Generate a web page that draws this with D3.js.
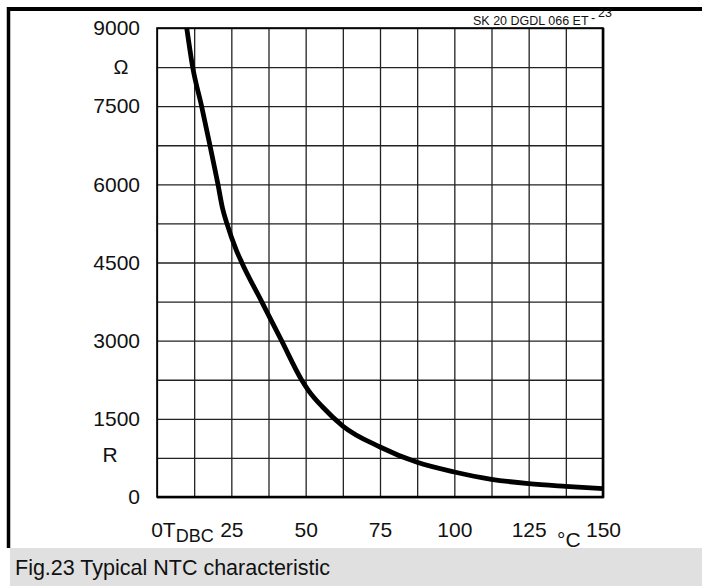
<!DOCTYPE html>
<html>
<head>
<meta charset="utf-8">
<script src="https://cdn.jsdelivr.net/npm/d3@7"></script>
<style>
    body { margin: 0; background: #fff; }
    svg { display: block; font-family: "Liberation Sans", Arial, sans-serif; }
    .grid line { stroke: #222; stroke-width: 1.3; }
    .grid path { display: none; }
    .tick text { font-size: 21px; fill: #111; }
    .axis path { display: none; }
</style>
</head>
<body>
<div id="chart"></div>
<script>
// temperature in degC, resistance in ohm
const temps = [10, 12, 15, 17.8, 20.5, 22, 23.5, 26.7, 28.5, 35.2, 41.9, 48.6, 50.9, 55.7, 62.5, 75, 87.5, 100, 112.5, 125, 137.5, 150];
const resist = [9000, 8250, 7500, 6750, 6000, 5550, 5250, 4734, 4500, 3750, 3000, 2250, 2048, 1727, 1362, 960, 665, 480, 340, 257, 205, 161];

const yTicks = [0, 1500, 3000, 4500, 6000, 7500, 9000];
const xTicks = [25, 50, 75, 100, 125, 150];
const xGrid = d3.range(0, 150.1, 12.5);
const yGrid = d3.range(0, 9001, 750);

const W = 702, H = 586;
const plot = { left: 157, right: 603, top: 28, bottom: 497 };

const svg = d3.select("#chart").append("svg")
    .attr("width", W)
    .attr("height", H);

const x = d3.scaleLinear().domain([0, 150]).range([plot.left, plot.right]);
const y = d3.scaleLinear().domain([0, 9000]).range([plot.bottom, plot.top]);

// outer frame: top and left only
svg.append("line").attr("x1", 8).attr("x2", W).attr("y1", 9).attr("y2", 9)
    .attr("stroke", "#000").attr("stroke-width", 4);
svg.append("line").attr("x1", 8.5).attr("x2", 8.5).attr("y1", 7).attr("y2", 548)
    .attr("stroke", "#000").attr("stroke-width", 3.5);

// caption box
svg.append("rect").attr("x", 10).attr("y", 548).attr("width", W - 10).attr("height", H - 548)
    .attr("fill", "#e0e0e0");
svg.append("text").attr("x", 15).attr("y", 575)
    .style("font-size", "21.5px").attr("fill", "#111")
    .text("Fig.23 Typical NTC characteristic");

// grid
svg.append("g").attr("class", "grid")
    .attr("transform", `translate(0,${plot.bottom})`)
    .call(d3.axisBottom(x).tickValues(xGrid).tickSize(-(plot.bottom - plot.top)).tickFormat(""));
svg.append("g").attr("class", "grid")
    .attr("transform", `translate(${plot.left},0)`)
    .call(d3.axisLeft(y).tickValues(yGrid).tickSize(-(plot.right - plot.left)).tickFormat(""));

// plot border (heavier right and bottom)
svg.append("rect")
    .attr("x", plot.left).attr("y", plot.top)
    .attr("width", plot.right - plot.left).attr("height", plot.bottom - plot.top)
    .attr("fill", "none").attr("stroke", "#000").attr("stroke-width", 1.6);
svg.append("polyline")
    .attr("points", `${plot.left},${plot.bottom} ${plot.right},${plot.bottom} ${plot.right},${plot.top}`)
    .attr("fill", "none").attr("stroke", "#000").attr("stroke-width", 2.6);

// axes labels
svg.append("g").attr("class", "axis")
    .attr("transform", `translate(${plot.left},0)`)
    .call(d3.axisLeft(y).tickValues(yTicks).tickSize(0).tickPadding(17).tickFormat(d3.format("d")));

svg.append("g").attr("class", "axis")
    .attr("transform", `translate(0,${plot.bottom})`)
    .call(d3.axisBottom(x).tickValues(xTicks).tickSize(0).tickPadding(25).tickFormat(d3.format("d")));

// "0 T_DBC" at origin
const t0 = svg.append("text").attr("x", x(0) - 5.8).attr("y", 537)
    .style("font-size", "21px").attr("fill", "#111");
t0.append("tspan").text("0T");
t0.append("tspan").attr("dy", 5).style("font-size", "18px").text("DBC");

// unit labels
svg.append("text").attr("x", 557).attr("y", 547)
    .style("font-size", "21px").attr("fill", "#111").text("°C");
svg.append("text").attr("x", 121).attr("y", 74).attr("text-anchor", "middle")
    .style("font-size", "20px").attr("fill", "#111").text("Ω");
svg.append("text").attr("x", 110).attr("y", 462).attr("text-anchor", "middle")
    .style("font-size", "21px").attr("fill", "#111").text("R");

// document reference
const ref = svg.append("text").attr("x", 473).attr("y", 25)
    .style("font-size", "12.5px").attr("fill", "#111");
ref.append("tspan").text("SK 20 DGDL 066 ET");
ref.append("tspan").attr("dx", 3).attr("dy", -3).text("-");
ref.append("tspan").attr("dx", 3).attr("dy", -5).text("23");

// curve
const data = temps.map((t, i) => ({ t: t, r: resist[i] }));
const line = d3.line()
    .x(d => x(d.t))
    .y(d => y(d.r))
    .curve(d3.curveMonotoneX);

svg.append("path")
    .datum(data)
    .attr("d", line)
    .attr("fill", "none")
    .attr("stroke", "#000")
    .attr("stroke-width", 4.8)
    .attr("stroke-linejoin", "round");
</script>
</body>
</html>
